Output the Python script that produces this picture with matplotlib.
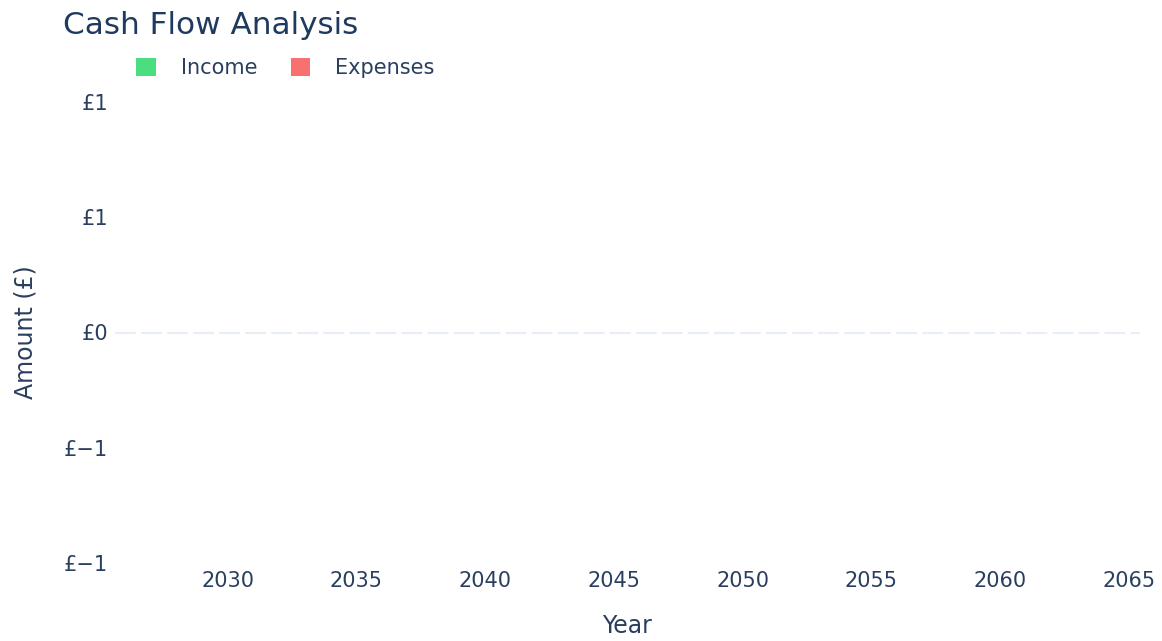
import numpy as np
import matplotlib
matplotlib.use("Agg")
import matplotlib.pyplot as plt

# Data: projection years with no cash flow recorded yet
years = list(range(2026, 2066))
income = [0] * len(years)
expenses = [0] * len(years)

y_ticks = [-1, -0.5, 0, 0.5, 1]
x_ticks = [2030, 2035, 2040, 2045, 2050, 2055, 2060, 2065]

TEXT = "#2a3f5f"
GREEN = "#4ade80"
RED = "#f87171"


def money(v):
    # round half away from zero, like d3 ",.0f"
    n = int(np.sign(v) * np.floor(abs(v) + 0.5))
    return "£" + str(n).replace("-", "\u2212")


W, H = 1162, 641
fig = plt.figure(figsize=(W / 100, H / 100), dpi=100)
ax = fig.add_axes([115 / W, 1 - 563 / H, (1140 - 115) / W, (563 - 102) / H])

x = np.array(years)
b1 = ax.bar(x, income, width=0.4, align="edge", color=GREEN, linewidth=0, label="Income")
b2 = ax.bar(x - 0.4, expenses, width=0.4, align="edge", color=RED, linewidth=0, label="Expenses")

ax.axhline(0, color="#e8eef7", lw=1.5, linestyle=(0, (10, 2.5)), zorder=0)

ax.set_xlim(2025.63, 2065.43)
ax.set_ylim(-1, 1)
ax.set_xticks(x_ticks)
ax.set_xticklabels([str(t) for t in x_ticks])
ax.set_yticks(y_ticks)
ax.set_yticklabels([money(v) for v in y_ticks])
ax.tick_params(length=0, labelsize=15, labelcolor=TEXT)
ax.tick_params(axis="x", pad=6)
ax.tick_params(axis="y", pad=5)
for s in ax.spines.values():
    s.set_visible(False)

fig.text(627 / W, 1 - 626 / H, "Year", ha="center", va="center", fontsize=17, color=TEXT)
fig.text(25 / W, 1 - 332 / H, "Amount (£)", ha="center", va="center", rotation=90,
         fontsize=17, color=TEXT)
fig.text(63 / W, 1 - 34 / H, "Cash Flow Analysis", ha="left", va="baseline",
         fontsize=22.4, color="#1f3a5f")

fig.legend(handles=[b1, b2], loc="center left", bbox_to_anchor=(136 / W, 1 - 68 / H),
           ncol=2, frameon=False, fontsize=15, labelcolor=TEXT, handlelength=0.95,
           handleheight=0.95, handletextpad=1.2, columnspacing=1.6, borderpad=0,
           borderaxespad=0)

fig.savefig("out.png", dpi=100, facecolor="white")
